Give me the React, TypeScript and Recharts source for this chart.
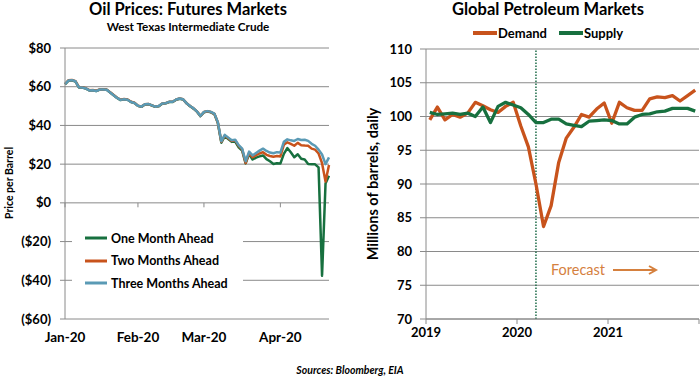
import { LineChart, Line, XAxis, YAxis, CartesianGrid, ReferenceLine, Legend } from "recharts"

const FONT = "Lato, 'Open Sans', sans-serif"
const GRID = "#8a8a8a"
const GREEN = "#17703f"
const ORANGE = "#c8531c"
const BLUE = "#5a9ab5"

// WTI futures, one value per trading day, Jan 2 - Apr 22, 2020
const monthTicks = [0, 21, 40, 62]
const monthLabels = ["Jan-20", "Feb-20", "Mar-20", "Apr-20"]
const priceTicks = [-60, -40, -20, 0, 20, 40, 60, 80]

const oneMonth = [
  61.2, 63.1, 63.3, 62.7, 59.6, 59.6, 59.0, 58.1, 58.2, 57.8, 58.5, 58.5, 58.4, 57.0, 55.6, 54.2, 53.1, 53.5, 53.3, 52.1, 51.6,
  50.1, 49.6, 50.8, 51.0, 50.3, 49.6, 49.9, 51.2, 51.4, 52.1, 52.1, 53.3, 53.8, 53.4, 51.4, 49.9, 48.7, 47.1, 44.8,
  46.8, 47.2, 46.8, 45.9, 41.3, 31.1, 34.4, 33.0, 31.5, 31.7, 28.7, 27.0, 20.4, 25.2, 22.4, 23.4, 24.0, 24.5, 22.6, 21.5, 20.1, 20.5,
  20.3, 25.3, 28.3, 26.1, 23.6, 25.1, 22.8, 22.4, 20.1, 19.9, 19.9, 18.3, -37.6, 10.0, 14.0,
]
const twoMonths = [
  61.4, 63.3, 63.5, 62.9, 59.8, 59.7, 59.2, 58.2, 58.3, 57.9, 58.6, 58.6, 58.5, 57.1, 55.7, 54.3, 53.3, 53.6, 53.4, 52.2, 51.7,
  50.2, 49.7, 50.9, 51.1, 50.4, 49.7, 50.0, 51.3, 51.5, 52.2, 52.2, 53.4, 53.9, 53.5, 51.5, 50.0, 48.8, 47.2, 44.9,
  46.9, 47.3, 46.9, 46.0, 41.5, 31.5, 34.8, 33.4, 32.0, 32.3, 29.4, 27.6, 20.6, 25.8, 23.6, 24.6, 25.5, 26.2, 24.8, 24.2, 23.8, 24.2,
  24.0, 30.0, 31.3, 30.5, 29.5, 31.0, 29.8, 29.6, 29.5, 28.0, 27.5, 25.5, 20.5, 11.0, 19.5,
]
const threeMonths = [
  61.3, 63.2, 63.4, 62.8, 59.7, 59.6, 59.1, 58.1, 58.2, 57.8, 58.5, 58.5, 58.4, 57.0, 55.6, 54.2, 53.2, 53.5, 53.3, 52.1, 51.6,
  50.2, 49.7, 50.9, 51.1, 50.4, 49.7, 50.0, 51.3, 51.5, 52.2, 52.2, 53.4, 53.9, 53.5, 51.5, 50.0, 48.8, 47.2, 44.9,
  47.0, 47.4, 47.0, 46.1, 41.7, 31.8, 35.1, 33.7, 32.3, 32.6, 29.8, 28.0, 21.5, 26.5, 24.5, 25.8, 27.0, 28.0, 26.8, 26.0, 25.6, 26.2,
  26.0, 31.5, 32.8, 32.3, 32.0, 33.0, 32.5, 32.6, 32.0, 30.5, 29.5, 27.5, 25.0, 20.0, 23.5,
]

// global petroleum, monthly Jan 2019 - Dec 2021, millions of barrels per day
const yearTicks = [0, 12, 24, 36]
const yearLabels = ["2019", "2020", "2021", ""]
const barrelTicks = [70, 75, 80, 85, 90, 95, 100, 105, 110]
const demand = [
  99.5, 101.4, 99.5, 100.3, 99.9, 100.5, 102.1, 101.6, 101.0, 100.6, 101.5, 102.1,
  98.6, 95.5, 90.0, 83.7, 86.8, 93.2, 96.8, 98.4, 100.3, 99.9, 101.1, 102.0,
  99.0, 102.1, 101.3, 100.9, 100.9, 102.6, 102.9, 102.8, 103.1, 102.3, 103.1, 103.9,
]
const supply = [
  100.6, 100.3, 100.4, 100.5, 100.3, 100.5, 100.0, 101.4, 99.1, 101.5, 102.1, 101.7,
  101.3, 100.3, 99.1, 99.1, 99.6, 99.6, 98.9, 98.7, 98.5, 99.3, 99.4, 99.5,
  99.4, 98.9, 98.9, 99.9, 100.3, 100.4, 100.7, 100.8, 101.2, 101.2, 101.2, 100.8,
]
const forecastStart = 14.5

const futuresData = oneMonth.map((v, i) => ({ i, one: v, two: twoMonths[i], three: threeMonths[i] }))
const petroleumData = demand.map((v, i) => ({ m: i + 0.5, demand: v, supply: supply[i] }))

const leftSeries = [
  { key: "one", name: "One Month Ahead", color: GREEN },
  { key: "two", name: "Two Months Ahead", color: ORANGE },
  { key: "three", name: "Three Months Ahead", color: BLUE },
]
const rightSeries = [
  { key: "demand", name: "Demand", color: ORANGE },
  { key: "supply", name: "Supply", color: GREEN },
]

const tickStyle = { fontSize: 13, fontWeight: 700, fill: "#000", fontFamily: FONT }

const fmtPrice = (v: number) => (v < 0 ? `($${-v})` : `$${v}`)

const FuturesLegend = () => (
  <div style={{ background: "#fff", width: 171, height: 70, paddingTop: 2, boxSizing: "border-box" }}>
    {leftSeries.map((s) => (
      <div key={s.key} style={{ display: "flex", alignItems: "center", height: 22.5 }}>
        <svg width={22} height={6} style={{ marginLeft: 13 }}>
          <line x1={0} y1={3} x2={22} y2={3} stroke={s.color} strokeWidth={3} />
        </svg>
        <span style={{ marginLeft: 4, fontSize: 12.5, fontWeight: 700, fontFamily: FONT }}>{s.name}</span>
      </div>
    ))}
  </div>
)

const PetroleumLegend = () => (
  <div style={{ display: "flex", alignItems: "center" }}>
    {rightSeries.map((s) => (
      <div key={s.key} style={{ display: "flex", alignItems: "center", marginRight: 12 }}>
        <svg width={24} height={6}>
          <line x1={0} y1={3} x2={24} y2={3} stroke={s.color} strokeWidth={4} />
        </svg>
        <span style={{ marginLeft: 1, fontSize: 13, fontWeight: 700, fontFamily: FONT }}>{s.name}</span>
      </div>
    ))}
  </div>
)

export default function App() {
  return (
    <div style={{ position: "absolute", left: 0, top: 0, width: 700, height: 379, background: "#fff", fontFamily: FONT, overflow: "hidden" }}>
      <div style={{ position: "absolute", left: 0, top: 0, width: 376, textAlign: "center", fontSize: 16.5, fontWeight: 700, lineHeight: "18px" }}>
        Oil Prices: Futures Markets
      </div>
      <div style={{ position: "absolute", left: 0, top: 19, width: 376, textAlign: "center", fontSize: 11.7, fontWeight: 700, lineHeight: "14px" }}>
        West Texas Intermediate Crude
      </div>
      <div style={{ position: "absolute", left: 350, top: 0, width: 396, textAlign: "center", fontSize: 16.5, fontWeight: 700, lineHeight: "18px" }}>
        Global Petroleum Markets
      </div>
      <div style={{ position: "absolute", left: 9, top: 183, transform: "translate(-50%, -50%) rotate(-90deg)", whiteSpace: "nowrap", fontSize: 10.5, fontWeight: 700 }}>
        Price per Barrel
      </div>
      <div style={{ position: "absolute", left: 372, top: 184, transform: "translate(-50%, -50%) rotate(-90deg)", whiteSpace: "nowrap", fontSize: 14.5, fontWeight: 700 }}>
        Millions of barrels, daily
      </div>
      <div style={{ position: "absolute", left: 0, top: 364, width: 700, textAlign: "center", fontSize: 10.5, fontWeight: 700, fontStyle: "italic" }}>
        Sources: Bloomberg, EIA
      </div>

      <div style={{ position: "absolute", left: 0, top: 0 }}>
        <LineChart width={350} height={379} data={futuresData} margin={{ top: 48, right: 21, bottom: 30, left: 15 }}>
          <CartesianGrid vertical={false} stroke={GRID} strokeWidth={1} />
          <XAxis
            dataKey="i"
            type="number"
            domain={[0, 76]}
            ticks={monthTicks}
            interval={0}
            tickFormatter={(v: number) => monthLabels[monthTicks.indexOf(v)]}
            axisLine={false}
            tickLine={false}
            tickMargin={7}
            tick={{ ...tickStyle, fontSize: 13.5 }}
          />
          <YAxis
            domain={[-60, 80]}
            ticks={priceTicks}
            interval={0}
            tickFormatter={fmtPrice}
            width={50}
            tickSize={5}
            tickMargin={9}
            axisLine={{ stroke: GRID }}
            tickLine={{ stroke: GRID }}
            tick={tickStyle}
          />
          {monthTicks.map((t) => (
            <ReferenceLine key={t} segment={[{ x: t, y: 0 }, { x: t, y: -2.3 }]} stroke={GRID} />
          ))}
          <Legend layout="vertical" align="center" verticalAlign="middle" wrapperStyle={{ left: 72, top: 225 }} content={FuturesLegend} />
          {leftSeries.map((s) => (
            <Line key={s.key} dataKey={s.key} name={s.name} stroke={s.color} strokeWidth={2.5} dot={false} isAnimationActive={false} strokeLinejoin="round" />
          ))}
        </LineChart>
      </div>

      <div style={{ position: "absolute", left: 350, top: 0 }}>
        <LineChart width={350} height={379} data={petroleumData} margin={{ top: 49, right: 1, bottom: 30, left: 26 }}>
          <CartesianGrid vertical={false} stroke={GRID} strokeWidth={1} />
          <XAxis
            dataKey="m"
            type="number"
            domain={[0, 36]}
            ticks={yearTicks}
            interval={0}
            tickFormatter={(v: number) => yearLabels[yearTicks.indexOf(v)]}
            axisLine={{ stroke: GRID }}
            tickLine={{ stroke: GRID }}
            tickSize={5}
            tickMargin={4}
            tick={tickStyle}
          />
          <YAxis
            domain={[70, 110]}
            ticks={barrelTicks}
            interval={0}
            width={50}
            tickSize={6}
            tickMargin={8}
            axisLine={{ stroke: GRID }}
            tickLine={{ stroke: GRID }}
            tick={tickStyle}
          />
          <ReferenceLine x={forecastStart} stroke="#1d6b48" strokeWidth={1.5} strokeDasharray="1.5 1.5" />
          <Legend layout="vertical" align="center" verticalAlign="middle" wrapperStyle={{ left: 123, top: 25 }} content={PetroleumLegend} />
          {rightSeries.map((s) => (
            <Line key={s.key} dataKey={s.key} name={s.name} stroke={s.color} strokeWidth={3.3} dot={false} isAnimationActive={false} strokeLinejoin="round" />
          ))}
        </LineChart>
      </div>

      <div style={{ position: "absolute", left: 551, top: 260, fontSize: 14.5, color: "#d5803e", lineHeight: "20px" }}>Forecast</div>
      <svg style={{ position: "absolute", left: 610, top: 264 }} width={50} height={12}>
        <line x1={3} y1={6} x2={45} y2={6} stroke="#d5803e" strokeWidth={2} />
        <path d="M39,2 L46,6 L39,10" fill="none" stroke="#d5803e" strokeWidth={2} />
      </svg>
    </div>
  )
}
